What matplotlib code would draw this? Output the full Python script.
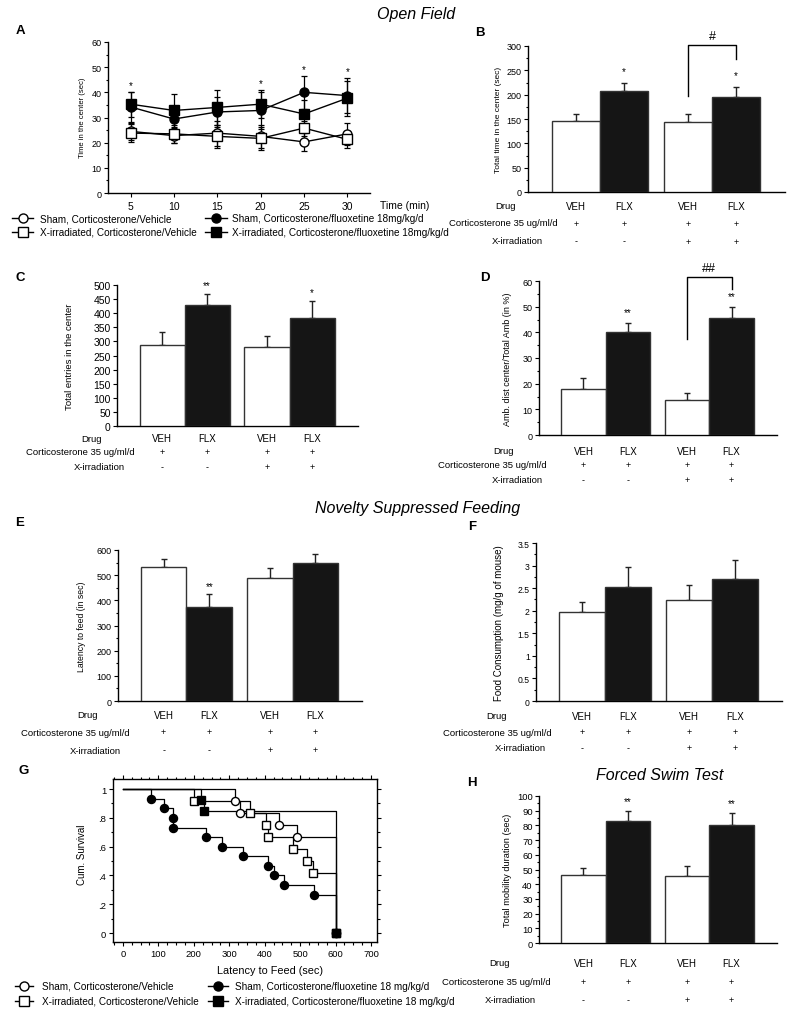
import numpy as np
import matplotlib
matplotlib.use('Agg')
import matplotlib.pyplot as plt
from matplotlib.lines import Line2D
from matplotlib import transforms
from matplotlib.ticker import MultipleLocator, FormatStrFormatter

plt.rcParams['font.family'] = ['Liberation Sans', 'DejaVu Sans']

W, H = 794, 1020

# A: open field, time in the center per 5 min bin
time_min = [5, 10, 15, 20, 25, 30]
a_sham_veh = [24.5, 22.8, 23.8, 22.5, 20.3, 23.5]
a_sham_veh_err = [3.5, 3.0, 5.0, 4.5, 3.5, 4.5]
a_xirr_veh = [23.8, 23.5, 22.5, 21.7, 25.8, 21.3]
a_xirr_veh_err = [3.5, 3.5, 4.5, 4.5, 3.0, 3.5]
a_sham_flx = [34.2, 29.4, 32.2, 32.8, 40.0, 38.7]
a_sham_flx_err = [6.0, 4.5, 6.0, 7.5, 6.5, 7.0]
a_xirr_flx = [35.3, 32.8, 34.0, 35.3, 31.4, 37.7]
a_xirr_flx_err = [5.0, 6.5, 7.0, 5.5, 5.5, 7.0]
a_stars = ['*', '', '', '*', '*', '*']

# bar panels: order VEH, FLX (sham) then VEH, FLX (X-irradiated)
drug = ['VEH', 'FLX', 'VEH', 'FLX']
cort = ['+', '+', '+', '+']
xirr = ['-', '-', '+', '+']
row_names = ['Drug', 'Corticosterone 35 ug/ml/d', 'X-irradiation']

b_means = [145, 207, 143, 195]
b_err = [16, 17, 17, 21]
b_stars = ['', '*', '', '*']

c_means = [287, 428, 280, 383]
c_err = [48, 40, 40, 59]
c_stars = ['', '**', '', '*']

d_means = [18.0, 40.0, 13.5, 45.5]
d_err = [4.3, 3.7, 3.0, 4.5]
d_stars = ['', '**', '', '**']

e_means = [532, 372, 490, 548]
e_err = [33, 53, 40, 35]
e_stars = ['', '**', '', '']

f_means = [1.97, 2.52, 2.24, 2.70]
f_err = [0.23, 0.45, 0.33, 0.42]
f_stars = ['', '', '', '']

h_means = [46.5, 83.0, 45.5, 80.5]
h_err = [4.5, 6.5, 7.0, 8.0]
h_stars = ['', '**', '', '**']

# G: Kaplan-Meier, latency to feed
g_sham_veh_t = [0, 315, 330, 440, 490, 600]
g_sham_veh_s = [1, .917, .833, .75, .667, 0]
g_xirr_veh_t = [0, 200, 360, 405, 410, 480, 520, 535, 600]
g_xirr_veh_s = [1, .917, .833, .75, .667, .583, .5, .417, 0]
g_sham_flx_t = [0, 80, 117, 140, 140, 235, 280, 340, 410, 427, 455, 540, 600]
g_sham_flx_s = [1, .933, .867, .8, .733, .667, .6, .533, .467, .4, .333, .267, 0]
g_xirr_flx_t = [0, 220, 228, 600]
g_xirr_flx_s = [1, .923, .846, 0]
g_yticklabels = ['0', '.2', '.4', '.6', '.8', '1']

legend_a = ['Sham, Corticosterone/Vehicle', 'X-irradiated, Corticosterone/Vehicle',
            'Sham, Corticosterone/fluoxetine 18mg/kg/d',
            'X-irradiated, Corticosterone/fluoxetine 18mg/kg/d']
legend_g = ['Sham, Corticosterone/Vehicle', 'X-irradiated, Corticosterone/Vehicle',
            'Sham, Corticosterone/fluoxetine 18 mg/kg/d',
            'X-irradiated, Corticosterone/fluoxetine 18 mg/kg/d']

xpos = [1, 2, 3.33, 4.33]
styles = [dict(marker='o', mfc='white'), dict(marker='s', mfc='white'),
          dict(marker='o', mfc='black'), dict(marker='s', mfc='black')]

fig = plt.figure(figsize=(W / 100, H / 100), dpi=100)


def px_axes(left, top, right, bottom):
    return fig.add_axes([left / W, 1 - bottom / H, (right - left) / W, (bottom - top) / H])


def ftext(x, y, s, **kw):
    kw.setdefault('ha', 'center')
    kw.setdefault('va', 'center')
    return fig.text(x / W, 1 - y / H, s, **kw)


def style_axes(ax, fs):
    for sp in ['top', 'right']:
        ax.spines[sp].set_visible(False)
    for sp in ['left', 'bottom']:
        ax.spines[sp].set_linewidth(1.0)
    ax.tick_params(which='both', direction='out', width=0.8, labelsize=fs, pad=1.5)
    ax.tick_params(which='major', length=3)
    ax.tick_params(which='minor', length=1.8)


def bar_panel(rect, means, errs, stars, ymax, major, minor, ylabel, ylab_x,
              tick_fs, lab_fs, rows_y, rows_x, star_pad=9):
    ax = px_axes(*rect)
    cols = ['white', '#151515', 'white', '#151515']
    ax.bar(xpos, means, width=1.0, color=cols, edgecolor='#333333', linewidth=1.0, zorder=3)
    ax.errorbar(xpos, means, yerr=[np.zeros(4), errs], fmt='none', ecolor='#222222',
                elinewidth=1.0, capsize=2, capthick=1.0, zorder=2)
    for x, m, e, s in zip(xpos, means, errs, stars):
        if s:
            ax.annotate(s, xy=(x, m + e), xytext=(0, star_pad), textcoords='offset pixels',
                        ha='center', va='center', fontsize=7)
    ax.set_xlim(0, 5.35)
    ax.set_ylim(0, ymax)
    ax.set_xticks([])
    ax.yaxis.set_major_locator(MultipleLocator(major))
    ax.yaxis.set_major_formatter(FormatStrFormatter('%g'))
    if minor:
        ax.yaxis.set_minor_locator(MultipleLocator(minor))
    style_axes(ax, tick_fs)
    ftext(ylab_x, (rect[1] + rect[3]) / 2, ylabel, rotation=90, fontsize=lab_fs)
    tr = transforms.blended_transform_factory(ax.transData, fig.transFigure)
    for ry, vals in zip(rows_y, [drug, cort, xirr]):
        for x, v in zip(xpos, vals):
            ax.text(x, 1 - ry / H, v, transform=tr, ha='center', va='center',
                    fontsize=7 if v in ('VEH', 'FLX') else 6.5)
    for ry, rx, name in zip(rows_y, rows_x, row_names):
        ftext(rx, ry, name, fontsize=6.8)
    return ax


def bracket(ax, x1, x2, y1, top, y2, label):
    ax.plot([x1, x1, x2, x2], [y1, top, top, y2], color='black', lw=1.0, clip_on=False)
    ax.annotate(label, xy=((x1 + x2) / 2, top), xytext=(0, 9), textcoords='offset pixels',
                ha='center', va='center', fontsize=9, annotation_clip=False)


def manual_legend(rows_y, handle_x, text_x, labels, fs, msize):
    k = 0
    for col in range(2):
        for row in range(2):
            x0, x1 = handle_x[col]
            y = 1 - rows_y[row] / H
            fig.add_artist(Line2D([x0 / W, x1 / W], [y, y], color='black', lw=1.0,
                                  transform=fig.transFigure))
            st = styles[k]
            fig.add_artist(Line2D([(x0 + x1) / 2 / W], [y], color='black', marker=st['marker'],
                                  mfc=st['mfc'], mec='black', ms=msize, lw=0,
                                  transform=fig.transFigure))
            ftext(text_x[col], rows_y[row], labels[k], ha='left', fontsize=fs)
            k += 1


# titles and panel letters
ftext(416, 14, 'Open Field', style='italic', fontsize=11.5)
ftext(418, 508, 'Novelty Suppressed Feeding', style='italic', fontsize=11.5)
ftext(660, 776, 'Forced Swim Test', style='italic', fontsize=11.5)
for lab, x, y in [('A', 20, 31), ('B', 480, 33), ('C', 20, 278), ('D', 485, 278),
                  ('E', 20, 523), ('F', 472, 527), ('G', 24, 771), ('H', 472, 783)]:
    ftext(x, y, lab, fontweight='bold', fontsize=9.5)

# A
axA = px_axes(108, 43, 370, 194)
series_a = [(a_sham_veh, a_sham_veh_err), (a_xirr_veh, a_xirr_veh_err),
            (a_sham_flx, a_sham_flx_err), (a_xirr_flx, a_xirr_flx_err)]
for (vals, errs), st in zip(series_a, styles):
    axA.errorbar(time_min, vals, yerr=errs, color='black', lw=1.0, elinewidth=0.9,
                 capsize=2, capthick=0.9, marker=st['marker'], mfc=st['mfc'],
                 mec='black', ms=6.5, zorder=3, clip_on=False)
upper = np.max([np.array(v) + np.array(e) for v, e in series_a], axis=0)
for t, u, s in zip(time_min, upper, a_stars):
    if s:
        axA.annotate(s, xy=(t, u), xytext=(0, 7), textcoords='offset pixels',
                     ha='center', va='center', fontsize=7)
axA.set_xlim(2.4, 32.6)
axA.set_ylim(0, 60)
axA.set_xticks(time_min)
axA.yaxis.set_major_locator(MultipleLocator(10))
axA.yaxis.set_minor_locator(MultipleLocator(5))
style_axes(axA, 6.5)
axA.tick_params(axis='x', labelsize=7.5, pad=3)
ftext(83, 118, 'Time in the center (sec)', rotation=90, fontsize=5.5)
ftext(380, 206, 'Time (min)', ha='left', fontsize=7.5)
manual_legend([219, 233], [(12, 33), (205, 227)], [40, 232], legend_a, 7.2, 6.5)

# B
axB = bar_panel((528, 47, 785, 193), b_means, b_err, b_stars, 300, 50, 25,
                'Total time in the center (sec)', 499, 6.5, 6, [207, 224, 242],
                [506, 503, 517], star_pad=12)
bracket(axB, xpos[2], xpos[3], 197, 302, 273, '#')

# C
bar_panel((117, 286, 358, 427), c_means, c_err, c_stars, 500, 50, None,
          'Total entries in the center', 70, 7.5, 6.8, [439, 453, 468],
          [92, 80, 99], star_pad=9)

# D
axD = bar_panel((539, 282, 777, 436), d_means, d_err, d_stars, 60, 10, 5,
                'Amb. dist center/Total Amb (in %)', 508, 6.5, 6.5, [452, 466, 481],
                [504, 492, 517], star_pad=11)
bracket(axD, xpos[2], xpos[3], 37.4, 61.6, 57, '##')

# E
bar_panel((118, 551, 362, 702), e_means, e_err, e_stars, 600, 100, 50,
          'Latency to feed (in sec)', 82, 6.5, 6.2, [716, 733, 751],
          [87, 75, 95], star_pad=8)

# F
bar_panel((536, 544, 782, 702), f_means, f_err, f_stars, 3.5, 0.5, 0.25,
          'Food Consumption (mg/g of mouse)', 499, 6.2, 7, [717, 733, 749],
          [497, 497, 520])

# H
bar_panel((539, 797, 777, 944), h_means, h_err, h_stars, 100, 10, 5,
          'Total mobility duration (sec)', 507, 6.8, 6.7, [964, 983, 1001],
          [500, 496, 510], star_pad=10)

# G
axG = px_axes(113, 780, 377, 943)
km = [(g_sham_veh_t, g_sham_veh_s), (g_xirr_veh_t, g_xirr_veh_s),
      (g_sham_flx_t, g_sham_flx_s), (g_xirr_flx_t, g_xirr_flx_s)]
for (t, s), st in zip(km, styles):
    axG.step(t, s, where='post', color='black', lw=0.9, zorder=2)
for (t, s), st in zip(km, styles):
    axG.plot(t[1:], s[1:], lw=0, marker=st['marker'], mfc=st['mfc'], mec='black',
             ms=5.8, zorder=3)
axG.set_xlim(-28, 717)
axG.set_ylim(-0.0625, 1.07)
axG.set_xticks(np.arange(0, 701, 100))
axG.xaxis.set_minor_locator(MultipleLocator(25))
axG.set_yticks(np.arange(0, 1.01, 0.2))
axG.set_yticklabels(g_yticklabels)
axG.yaxis.set_minor_locator(MultipleLocator(0.1))
axG.tick_params(which='both', direction='out', top=True, right=True, width=0.8,
                labelsize=6.8, pad=2)
axG.tick_params(which='major', length=3)
axG.tick_params(which='minor', length=1.8)
for sp in axG.spines.values():
    sp.set_linewidth(1.0)
ftext(82, 855, 'Cum. Survival', rotation=90, fontsize=7)
ftext(270, 971, 'Latency to Feed (sec)', fontsize=7.8)
manual_legend([987, 1002], [(15, 33), (208, 228)], [42, 235], legend_g, 7.2, 6.5)

fig.savefig('out.png', dpi=100)
